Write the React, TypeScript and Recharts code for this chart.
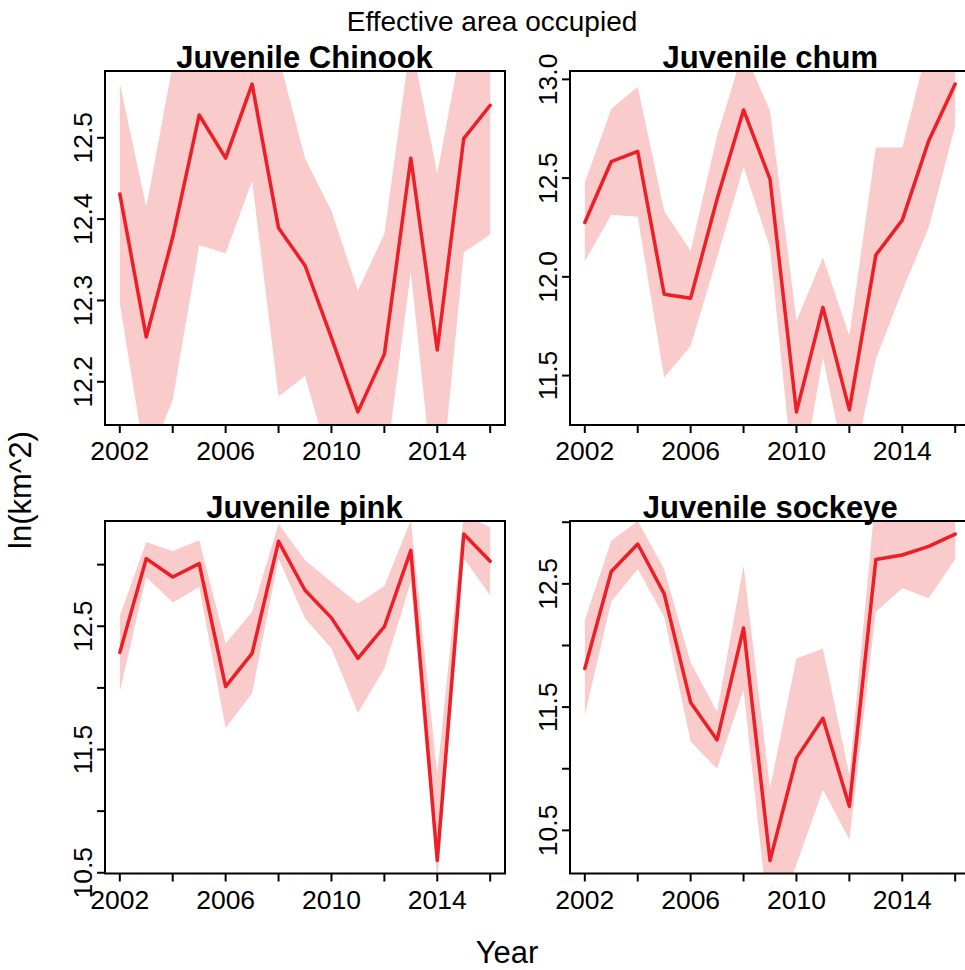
import React from 'react';
import { ComposedChart, Area, Line, XAxis, YAxis, ReferenceArea } from 'recharts';

const years = [2002, 2003, 2004, 2005, 2006, 2007, 2008, 2009, 2010, 2011, 2012, 2013, 2014, 2015, 2016];

const chinookEst = [12.431, 12.255, 12.378, 12.528, 12.475, 12.566, 12.389, 12.343, 12.254, 12.163, 12.234, 12.475, 12.239, 12.499, 12.54];
const chinookHi = [12.567, 12.415, 12.59, 12.65, 12.62, 12.68, 12.6, 12.475, 12.41, 12.312, 12.382, 12.62, 12.456, 12.63, 12.64];
const chinookLo = [12.296, 12.096, 12.178, 12.368, 12.358, 12.447, 12.182, 12.207, 12.093, 12.05, 12.084, 12.336, 12.023, 12.359, 12.381];

const chumEst = [12.275, 12.584, 12.635, 11.912, 11.892, 12.394, 12.845, 12.495, 11.316, 11.845, 11.326, 12.11, 12.287, 12.689, 12.976];
const chumHi = [12.478, 12.85, 12.963, 12.334, 12.132, 12.715, 13.15, 12.841, 11.777, 12.098, 11.701, 12.655, 12.655, 13.19, 13.3];
const chumLo = [12.078, 12.314, 12.304, 11.49, 11.65, 12.098, 12.557, 12.149, 10.82, 11.591, 10.948, 11.583, 11.929, 12.25, 12.765];

const pinkEst = [12.288, 13.049, 12.9, 13.008, 12.01, 12.28, 13.189, 12.792, 12.568, 12.24, 12.496, 13.116, 10.6, 13.248, 13.027];
const pinkHi = [12.585, 13.183, 13.108, 13.197, 12.361, 12.617, 13.332, 13.035, 12.86, 12.684, 12.827, 13.36, 11.3, 13.4, 13.305];
const pinkLo = [11.97, 12.9, 12.693, 12.819, 11.673, 11.956, 13.049, 12.563, 12.32, 11.795, 12.159, 12.86, 10.45, 13.049, 12.752];

const sockeyeEst = [11.813, 12.6, 12.823, 12.419, 11.538, 11.234, 12.142, 10.256, 11.086, 11.409, 10.695, 12.697, 12.734, 12.804, 12.904];
const sockeyeHi = [12.204, 12.85, 13.01, 12.62, 11.862, 11.463, 12.648, 10.843, 11.894, 11.975, 10.951, 13.233, 13.2, 13.25, 13.3];
const sockeyeLo = [11.436, 12.357, 12.621, 12.231, 11.22, 10.999, 11.638, 9.663, 10.224, 10.83, 10.426, 12.271, 12.465, 12.384, 12.702];

const xTicks = [2002, 2004, 2006, 2008, 2010, 2012, 2014, 2016];
const xLabeled = [2002, 2006, 2010, 2014];

const chinookTicks = [12.2, 12.3, 12.4, 12.5];
const chinookLabeled = [12.2, 12.3, 12.4, 12.5];
const chumTicks = [11.5, 12.0, 12.5, 13.0];
const chumLabeled = [11.5, 12.0, 12.5, 13.0];
const pinkTicks = [10.5, 11.0, 11.5, 12.0, 12.5, 13.0];
const pinkLabeled = [10.5, 11.5, 12.5];
const sockeyeTicks = [10.5, 11.0, 11.5, 12.0, 12.5, 13.0];
const sockeyeLabeled = [10.5, 11.5, 12.5];

const mainTitle = 'Effective area occupied';
const xTitle = 'Year';
const yTitle = 'ln(km^2)';

const FONT = '"Liberation Sans", Arial, Helvetica, sans-serif';
const LINE = '#EE1E26';
const BAND = '#F9CBCB';
const TICK_FS = 26.5;

const xDomain = [years[0] - 0.04 * (years[years.length - 1] - years[0]), years[years.length - 1] + 0.04 * (years[years.length - 1] - years[0])];

function padRange(v: number[]): [number, number] {
  const mn = Math.min(...v);
  const mx = Math.max(...v);
  const r = mx - mn;
  return [mn - 0.04 * r, mx + 0.04 * r];
}

const XTick = (props: any) => {
  const { x, y, payload } = props;
  if (!xLabeled.includes(payload.value)) return <g />;
  return (
    <text x={x} y={y + 25} textAnchor="middle" fontSize={TICK_FS} fontFamily={FONT} fill="#000">
      {payload.value}
    </text>
  );
};

const makeYTick = (labeled: number[]) => (props: any) => {
  const { x, y, payload } = props;
  if (!labeled.some((l) => Math.abs(l - payload.value) < 1e-9)) return <g />;
  const bx = x - 2.5;
  return (
    <text
      x={bx}
      y={y}
      transform={`rotate(-90 ${bx} ${y})`}
      textAnchor="middle"
      fontSize={TICK_FS}
      fontFamily={FONT}
      fill="#000"
    >
      {Number(payload.value).toFixed(1)}
    </text>
  );
};

type PanelDef = {
  title: string;
  est: number[];
  lo: number[];
  hi: number[];
  ticks: number[];
  labeled: number[];
  left: number;
  top: number;
  h: number;
};

const PLOT_W = 400;
const M_TOP = 35;
const M_LEFT = 10;
const Y_W = 50;
const X_H = 50;
const M_BOTTOM = 10;
const M_RIGHT = 20;

const panels: PanelDef[] = [
  { title: 'Juvenile Chinook', est: chinookEst, lo: chinookLo, hi: chinookHi, ticks: chinookTicks, labeled: chinookLabeled, left: 104.5, top: 71, h: 354 },
  { title: 'Juvenile chum', est: chumEst, lo: chumLo, hi: chumHi, ticks: chumTicks, labeled: chumLabeled, left: 570.3, top: 71, h: 354 },
  { title: 'Juvenile pink', est: pinkEst, lo: pinkLo, hi: pinkHi, ticks: pinkTicks, labeled: pinkLabeled, left: 104.5, top: 521.3, h: 352.5 },
  { title: 'Juvenile sockeye', est: sockeyeEst, lo: sockeyeLo, hi: sockeyeHi, ticks: sockeyeTicks, labeled: sockeyeLabeled, left: 570.3, top: 521.3, h: 352.5 },
];

function Panel({ p }: { p: PanelDef }) {
  const data = years.map((yr, i) => ({ year: yr, est: p.est[i], range: [p.lo[i], p.hi[i]] }));
  const yDomain = padRange(p.est);
  const width = PLOT_W + M_LEFT + Y_W + M_RIGHT;
  const height = p.h + M_TOP + X_H + M_BOTTOM;
  return (
    <div style={{ position: 'absolute', left: p.left - M_LEFT - Y_W, top: p.top - M_TOP, width, height }}>
      <ComposedChart
        width={width}
        height={height}
        data={data}
        margin={{ top: M_TOP, right: M_RIGHT, bottom: M_BOTTOM, left: M_LEFT }}
      >
        <XAxis
          dataKey="year"
          type="number"
          domain={xDomain}
          allowDataOverflow
          ticks={xTicks}
          interval={0}
          height={X_H}
          axisLine={false}
          tickLine={{ stroke: '#000', strokeWidth: 2 }}
          tickSize={8}
          tick={<XTick />}
        />
        <YAxis
          type="number"
          domain={yDomain}
          allowDataOverflow
          ticks={p.ticks}
          interval={0}
          width={Y_W}
          axisLine={false}
          tickLine={{ stroke: '#000', strokeWidth: 2 }}
          tickSize={8}
          tick={makeYTick(p.labeled)}
        />
        <Area
          dataKey="range"
          stroke="none"
          fill={BAND}
          fillOpacity={1}
          isAnimationActive={false}
          dot={false}
          activeDot={false}
        />
        <Line
          dataKey="est"
          stroke={LINE}
          strokeWidth={3.5}
          strokeLinejoin="round"
          strokeLinecap="round"
          dot={false}
          activeDot={false}
          isAnimationActive={false}
        />
        <ReferenceArea
          x1={xDomain[0]}
          x2={xDomain[1]}
          y1={yDomain[0]}
          y2={yDomain[1]}
          fill="none"
          fillOpacity={0}
          stroke="#000"
          strokeWidth={2}
          ifOverflow="visible"
        />
      </ComposedChart>
    </div>
  );
}

export default function App() {
  return (
    <div style={{ position: 'absolute', left: 0, top: 0, width: 965, height: 970, overflow: 'hidden', background: '#fff' }}>
      {panels.map((p) => (
        <Panel key={p.title} p={p} />
      ))}
      <svg width={965} height={970} style={{ position: 'absolute', left: 0, top: 0, pointerEvents: 'none' }}>
        <text x={492} y={31} textAnchor="middle" fontSize={28} fontFamily={FONT} fill="#000">
          {mainTitle}
        </text>
        {panels.map((p) => (
          <text
            key={p.title}
            x={p.left + PLOT_W / 2}
            y={p.top - 3}
            textAnchor="middle"
            fontSize={31}
            fontWeight="bold"
            fontFamily={FONT}
            fill="#000"
          >
            {p.title}
          </text>
        ))}
        <text x={507} y={963} textAnchor="middle" fontSize={31} fontFamily={FONT} fill="#000">
          {xTitle}
        </text>
        <text
          x={31}
          y={490}
          transform="rotate(-90 31 490)"
          textAnchor="middle"
          fontSize={31}
          fontFamily={FONT}
          fill="#000"
        >
          {yTitle}
        </text>
      </svg>
    </div>
  );
}
